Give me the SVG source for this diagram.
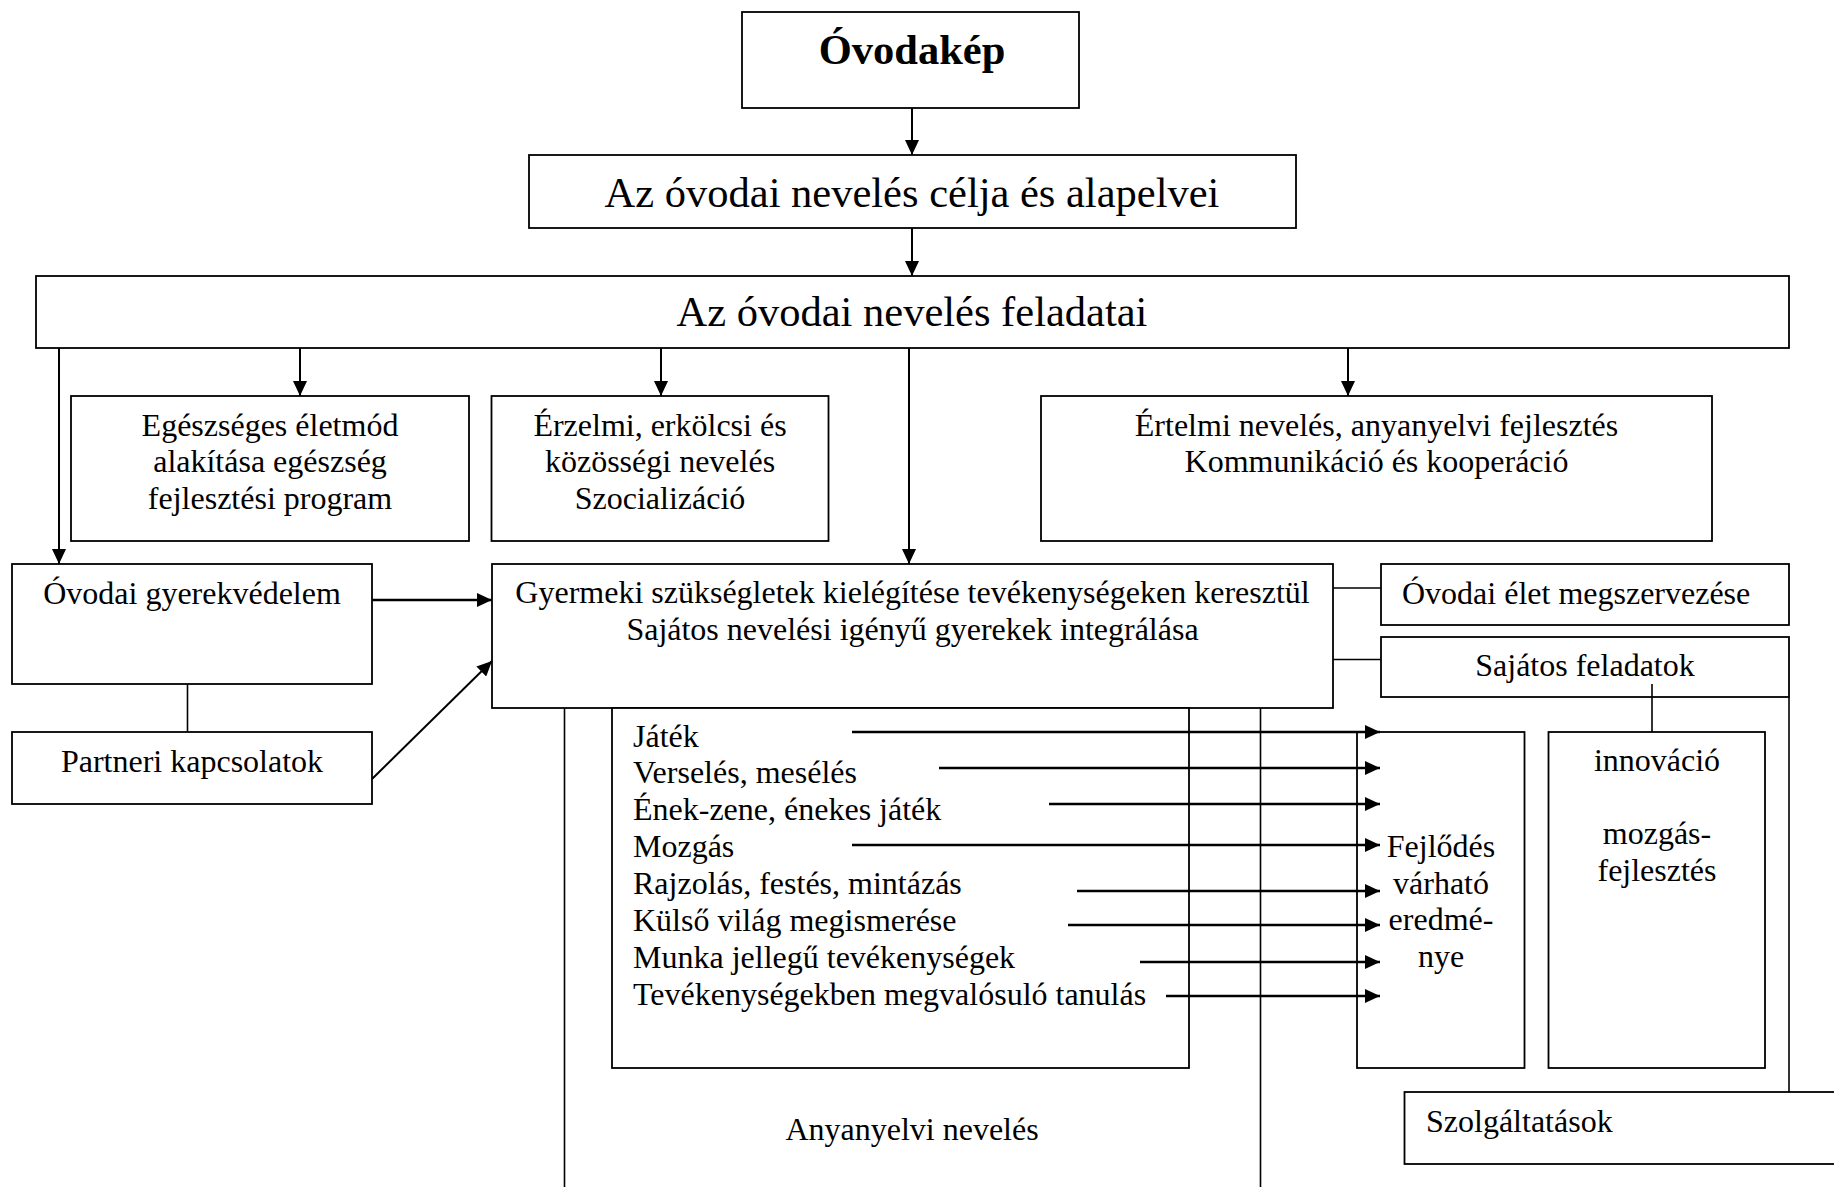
<svg xmlns="http://www.w3.org/2000/svg" width="1834" height="1187" viewBox="0 0 1834 1187">
<defs>
<style>
.box{fill:#fff;stroke:#000;stroke-width:1.8}
.t{font-family:"Liberation Serif","Times New Roman",serif;font-size:32px;fill:#000}
.c{text-anchor:middle}
.big{font-family:"Liberation Serif","Times New Roman",serif;font-size:42.5px;fill:#000;text-anchor:middle}
.bold{font-weight:bold}
.arr{stroke:#000;stroke-width:2;fill:none;marker-end:url(#ah)}
.arrb{stroke:#000;stroke-width:2.6;fill:none;marker-end:url(#ah)}
.ln{stroke:#000;stroke-width:1.6;fill:none}
</style>
<marker id="ah" markerUnits="userSpaceOnUse" markerWidth="16" markerHeight="14" refX="15" refY="7" orient="auto">
<path d="M0,0 L15,7 L0,14 z" fill="#000"/>
</marker>
</defs>
<rect width="1834" height="1187" fill="#fff"/>

<g id="ovodakep">
<rect class="box" x="742" y="12" width="337" height="96" stroke-width="2.4"/>
<text class="big bold" x="912" y="64">Óvodakép</text>
</g>

<g id="cel">
<rect class="box" x="529" y="155" width="767" height="73"/>
<text class="big" x="912" y="207">Az óvodai nevelés célja és alapelvei</text>
</g>

<g id="feladatai">
<rect class="box" x="36" y="276" width="1753" height="72"/>
<text class="big" x="912" y="326">Az óvodai nevelés feladatai</text>
</g>

<g id="egeszseges">
<rect class="box" x="71" y="396" width="398" height="145"/>
<text class="t c" x="270" y="435.5">Egészséges életmód</text>
<text class="t c" x="270" y="472.2">alakítása egészség</text>
<text class="t c" x="270" y="509">fejlesztési program</text>
</g>

<g id="erzelmi">
<rect class="box" x="491.5" y="396" width="337" height="145"/>
<text class="t c" x="660" y="435.5">Érzelmi, erkölcsi és</text>
<text class="t c" x="660" y="472.2">közösségi nevelés</text>
<text class="t c" x="660" y="509">Szocializáció</text>
</g>

<g id="ertelmi">
<rect class="box" x="1041" y="396" width="671" height="145"/>
<text class="t c" x="1376.5" y="435.5">Értelmi nevelés, anyanyelvi fejlesztés</text>
<text class="t c" x="1376.5" y="472.2">Kommunikáció és kooperáció</text>
</g>

<g id="gyerekvedelem">
<rect class="box" x="12" y="564" width="360" height="120"/>
<text class="t c" x="192" y="604">Óvodai gyerekvédelem</text>
</g>

<g id="partneri">
<rect class="box" x="12" y="732" width="360" height="72"/>
<text class="t c" x="192" y="772">Partneri kapcsolatok</text>
</g>

<g id="gyermeki">
<rect class="box" x="492" y="564" width="841" height="144"/>
<text class="t c" x="912.5" y="603">Gyermeki szükségletek kielégítése tevékenységeken keresztül</text>
<text class="t c" x="912.5" y="639.5">Sajátos nevelési igényű gyerekek integrálása</text>
</g>

<g id="ovodai-elet">
<rect class="box" x="1381" y="564" width="408" height="61"/>
<text class="t" x="1402" y="604">Óvodai élet megszervezése</text>
</g>

<g id="sajatos">
<rect class="box" x="1381" y="637" width="408" height="60"/>
<text class="t c" x="1585" y="676">Sajátos feladatok</text>
</g>

<g id="tevekenysegek">
<rect class="box" x="612" y="708" width="577" height="360"/>
<text class="t" x="633" y="746.5">Játék</text>
<text class="t" x="633" y="783.3">Verselés, mesélés</text>
<text class="t" x="633" y="820.3">Ének-zene, énekes játék</text>
<text class="t" x="633" y="857">Mozgás</text>
<text class="t" x="633" y="893.6">Rajzolás, festés, mintázás</text>
<text class="t" x="633" y="930.8">Külső világ megismerése</text>
<text class="t" x="633" y="968">Munka jellegű tevékenységek</text>
<text class="t" x="633" y="1005">Tevékenységekben megvalósuló tanulás</text>
</g>

<g id="fejlodes">
<rect class="box" x="1357" y="732" width="167.5" height="336"/>
<text class="t c" x="1441" y="857">Fejlődés</text>
<text class="t c" x="1441" y="893.5">várható</text>
<text class="t c" x="1441" y="930">eredmé-</text>
<text class="t c" x="1441" y="966.7">nye</text>
</g>

<g id="innovacio">
<rect class="box" x="1548.5" y="732" width="216.5" height="336"/>
<text class="t c" x="1657" y="771">innováció</text>
<text class="t c" x="1657" y="844">mozgás-</text>
<text class="t c" x="1657" y="880.7">fejlesztés</text>
</g>

<g id="szolgaltatasok">
<rect class="box" x="1404.5" y="1092" width="440" height="72"/>
<text class="t" x="1426" y="1132">Szolgáltatások</text>
</g>

<g id="anyanyelvi">
<text class="t c" x="912" y="1140">Anyanyelvi nevelés</text>
</g>

<g id="connectors">
<line class="arr" x1="912" y1="108" x2="912" y2="155"/>
<line class="arr" x1="912" y1="228" x2="912" y2="276"/>
<line class="arr" x1="59" y1="348" x2="59" y2="564"/>
<line class="arr" x1="300" y1="348" x2="300" y2="396"/>
<line class="arr" x1="661" y1="348" x2="661" y2="396"/>
<line class="arr" x1="909" y1="348" x2="909" y2="564"/>
<line class="arr" x1="1348" y1="348" x2="1348" y2="396"/>
<line class="arrb" x1="372" y1="600" x2="492" y2="600"/>
<line class="arr" x1="372" y1="779" x2="492" y2="661"/>
<line class="ln" x1="187.5" y1="684" x2="187.5" y2="732"/>
<line class="ln" x1="1333" y1="588" x2="1381" y2="588"/>
<line class="ln" x1="1333" y1="659.5" x2="1381" y2="659.5"/>
<line class="ln" x1="1652" y1="684" x2="1652" y2="732"/>
<line class="ln" x1="1789" y1="697" x2="1789" y2="1092"/>
<line class="ln" x1="564.5" y1="708" x2="564.5" y2="1187"/>
<line class="ln" x1="1260.5" y1="708" x2="1260.5" y2="1187"/>
<line class="arrb" x1="852" y1="732" x2="1380" y2="732"/>
<line class="arrb" x1="939" y1="768" x2="1380" y2="768"/>
<line class="arrb" x1="1049" y1="804" x2="1380" y2="804"/>
<line class="arrb" x1="852" y1="845" x2="1380" y2="845"/>
<line class="arrb" x1="1077" y1="891" x2="1380" y2="891"/>
<line class="arrb" x1="1068" y1="925" x2="1380" y2="925"/>
<line class="arrb" x1="1140" y1="962" x2="1380" y2="962"/>
<line class="arrb" x1="1166" y1="996" x2="1380" y2="996"/>
</g>
</svg>
